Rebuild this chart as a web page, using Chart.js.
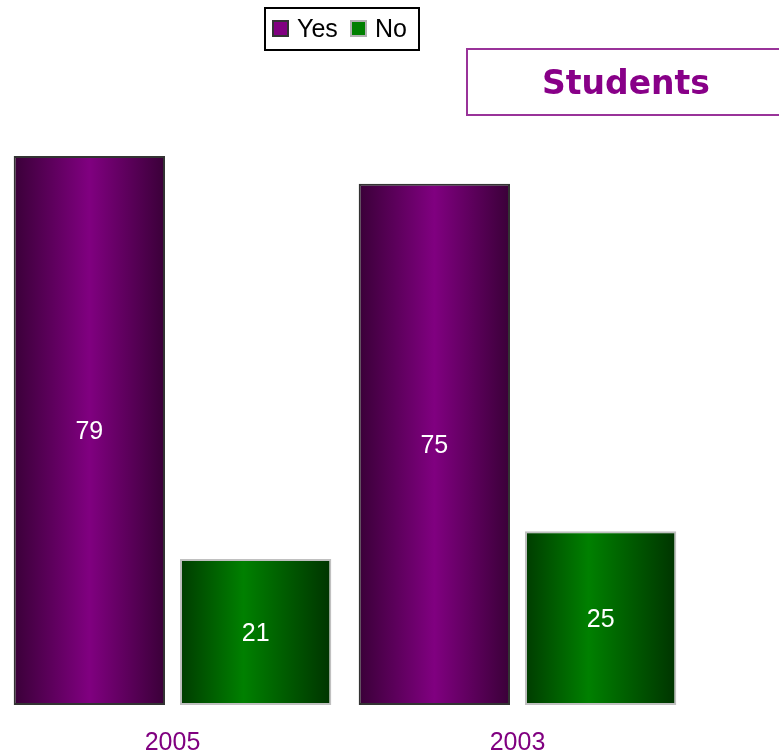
<!DOCTYPE html>
<html>
<head>
<meta charset="utf-8">
<script src="https://cdn.jsdelivr.net/npm/chart.js@4"></script>
<style>
  html, body { margin: 0; padding: 0; background: #fff; }
  #wrap { width: 779px; height: 756px; position: relative; }
</style>
</head>
<body>
<div id="wrap"><canvas id="studentsChart" width="779" height="756"></canvas></div>
<script>
const years = ["2005", "2003"];
const yesValues = [79, 75];
const noValues = [21, 25];
const seriesLabels = ["Yes", "No"];
const chartTitle = "Students";

const catPct = 0.964;
const barPct = 0.91;

// edge / middle colours of each bar gradient
const yesStops = ["#3a0038", "#800080", "#3a0038"];
const noStops = ["#003c00", "#008000", "#003400"];
const borderColors = ["#333333", "#c0c0c0"];

function barGradient(context, stops, peak){
    const chart = context.chart;
    if (!chart.chartArea) return stops[1];
    const xs = chart.scales.x;
    const catW = xs.width / years.length;
    const slot = catW * catPct / 2;
    const w = slot * barPct;
    const cx = xs.getPixelForValue(context.dataIndex) - catW * catPct / 2 + slot * (context.datasetIndex + 0.5);
    const g = chart.ctx.createLinearGradient(cx - w / 2, 0, cx + w / 2, 0);
    g.addColorStop(0, stops[0]);
    g.addColorStop(peak, stops[1]);
    g.addColorStop(1, stops[2]);
    return g;
}

//value labels inside bars, legend box, title box
const extras = {
    id: "extras",
    afterDatasetsDraw(chart){
        const c = chart.ctx;
        c.save();
        c.fillStyle = "#ffffff";
        c.font = "25px 'Liberation Sans', Arial, sans-serif";
        c.textAlign = "center";
        c.textBaseline = "middle";
        chart.data.datasets.forEach((ds, di) => {
            chart.getDatasetMeta(di).data.forEach((bar, i) => {
                c.fillText(String(ds.data[i]), bar.x, (bar.y + bar.base) / 2 + 2);
            });
        });
        c.restore();
    },
    afterDraw(chart){
        const c = chart.ctx;
        c.save();
        // legend
        c.fillStyle = "#ffffff";
        c.fillRect(265, 8, 154, 42);
        c.strokeStyle = "#000000";
        c.lineWidth = 2;
        c.strokeRect(265, 8, 154, 42);
        const swatch = [[273, "#800080", "#333333"], [351, "#008000", "#b0b0b0"]];
        c.font = "25px 'Liberation Sans', Arial, sans-serif";
        c.textBaseline = "middle";
        seriesLabels.forEach((lab, i) => {
            const [sx, fill, edge] = swatch[i];
            c.fillStyle = fill;
            c.fillRect(sx, 21, 15, 15);
            c.strokeStyle = edge;
            c.lineWidth = 2;
            c.strokeRect(sx, 21, 15, 15);
            c.fillStyle = "#000000";
            c.fillText(lab, sx + 24, 30);
        });
        // title box
        c.strokeStyle = "#993399";
        c.lineWidth = 2;
        c.strokeRect(467, 49, 320, 66);
        c.fillStyle = "#880088";
        c.font = "bold 33px 'DejaVu Sans', Verdana, sans-serif";
        c.textAlign = "center";
        c.fillText(chartTitle, 626, 85);
        c.restore();
    }
};

new Chart(document.getElementById("studentsChart"), {
    type: "bar",
    data: {
        labels: years,
        datasets: [
            {
                label: seriesLabels[0],
                data: yesValues,
                backgroundColor: ctx => barGradient(ctx, yesStops, 0.5),
                borderColor: borderColors[0],
                borderWidth: 2,
                borderSkipped: false,
                categoryPercentage: catPct,
                barPercentage: barPct
            },
            {
                label: seriesLabels[1],
                data: noValues,
                backgroundColor: ctx => barGradient(ctx, noStops, 0.42),
                borderColor: borderColors[1],
                borderWidth: 2,
                borderSkipped: false,
                categoryPercentage: catPct,
                barPercentage: barPct
            }
        ]
    },
    options: {
        responsive: false,
        animation: false,
        layout: { padding: { left: -6, right: 89, top: 10, bottom: 0 } },
        plugins: {
            legend: { display: false },
            tooltip: { enabled: false }
        },
        scales: {
            x: {
                grid: { display: false },
                border: { display: false },
                afterFit: axis => { axis.height = 51; },
                ticks: {
                    color: "#800080",
                    padding: 15,
                    font: { size: 25, family: "'Liberation Sans', Arial, sans-serif" }
                }
            },
            y: {
                display: false,
                min: 0,
                max: 100
            }
        }
    },
    plugins: [extras]
});
</script>
</body>
</html>
